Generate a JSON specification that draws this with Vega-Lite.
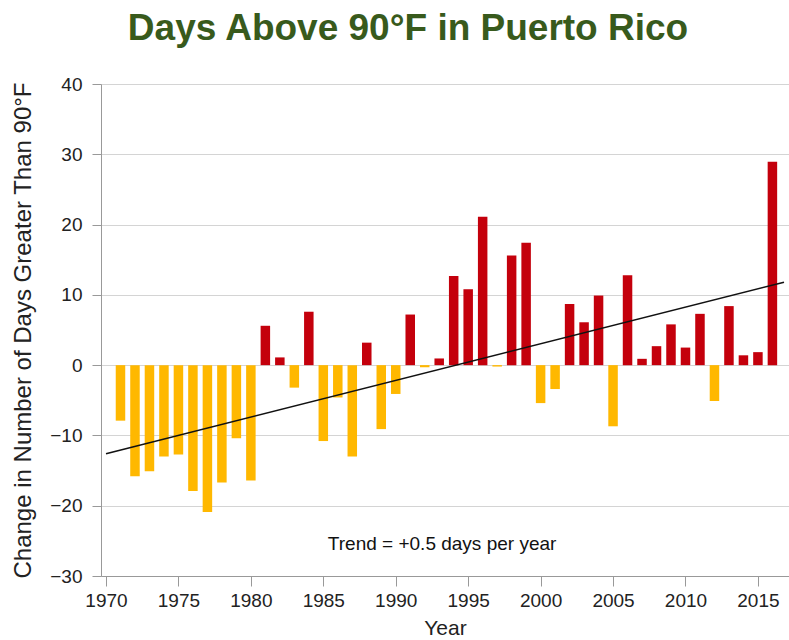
{
  "$schema": "https://vega.github.io/schema/vega-lite/v6.json",
  "autosize": {"type": "none"},
  "width": 688,
  "height": 492,
  "padding": {"left": 101, "top": 84, "right": 0, "bottom": 64},
  "background": "white",
  "config": {
    "view": {"stroke": null},
    "font": "Liberation Sans"
  },
  "title": {
    "text": "Days Above 90°F in Puerto Rico",
    "font": "Liberation Sans",
    "fontSize": 37,
    "fontWeight": "bold",
    "color": "#385A1C",
    "anchor": "middle",
    "frame": "group",
    "dx": -37,
    "offset": 27
  },
  "datasets": {
    "bars": [
      {"year": 1971, "value": -7.9},
      {"year": 1972, "value": -15.8},
      {"year": 1973, "value": -15.1},
      {"year": 1974, "value": -13.0},
      {"year": 1975, "value": -12.7},
      {"year": 1976, "value": -17.9},
      {"year": 1977, "value": -20.9},
      {"year": 1978, "value": -16.7},
      {"year": 1979, "value": -10.4},
      {"year": 1980, "value": -16.4},
      {"year": 1981, "value": 5.6},
      {"year": 1982, "value": 1.1},
      {"year": 1983, "value": -3.2},
      {"year": 1984, "value": 7.6},
      {"year": 1985, "value": -10.8},
      {"year": 1986, "value": -4.6},
      {"year": 1987, "value": -13.0},
      {"year": 1988, "value": 3.2},
      {"year": 1989, "value": -9.1},
      {"year": 1990, "value": -4.1},
      {"year": 1991, "value": 7.2},
      {"year": 1992, "value": -0.3},
      {"year": 1993, "value": 0.95},
      {"year": 1994, "value": 12.7},
      {"year": 1995, "value": 10.8},
      {"year": 1996, "value": 21.1},
      {"year": 1997, "value": -0.2},
      {"year": 1998, "value": 15.6},
      {"year": 1999, "value": 17.4},
      {"year": 2000, "value": -5.4},
      {"year": 2001, "value": -3.4},
      {"year": 2002, "value": 8.7},
      {"year": 2003, "value": 6.1},
      {"year": 2004, "value": 9.9},
      {"year": 2005, "value": -8.7},
      {"year": 2006, "value": 12.8},
      {"year": 2007, "value": 0.9},
      {"year": 2008, "value": 2.7},
      {"year": 2009, "value": 5.8},
      {"year": 2010, "value": 2.5},
      {"year": 2011, "value": 7.3},
      {"year": 2012, "value": -5.1},
      {"year": 2013, "value": 8.4},
      {"year": 2014, "value": 1.4},
      {"year": 2015, "value": 1.85},
      {"year": 2016, "value": 28.95}
    ],
    "trend": [
      {"year": 1970, "value": -12.6},
      {"year": 2016.8, "value": 11.8}
    ],
    "note": [
      {"year": 1993.2, "value": -25.5, "label": "Trend = +0.5 days per year"}
    ]
  },
  "layer": [
    {
      "data": {"name": "bars"},
      "mark": {"type": "bar", "width": 9.5},
      "encoding": {
        "x": {
          "field": "year",
          "type": "quantitative",
          "scale": {"domain": [1970, 2016.8], "nice": false, "zero": false},
          "axis": {
            "title": "Year",
            "titleFontSize": 21,
            "titleFontWeight": "normal",
            "titleColor": "#222222",
            "titlePadding": 7,
            "values": [1970, 1975, 1980, 1985, 1990, 1995, 2000, 2005, 2010, 2015],
            "format": "d",
            "labelFontSize": 19,
            "labelColor": "#222222",
            "labelPadding": 5,
            "tickSize": 10,
            "tickColor": "#999999",
            "domainColor": "#999999",
            "grid": false,
            "labelFlush": false
          }
        },
        "y": {
          "field": "value",
          "type": "quantitative",
          "scale": {"domain": [-30, 40], "nice": false},
          "axis": {
            "title": "Change in Number of Days Greater Than 90°F",
            "titleFontSize": 24,
            "titleFontWeight": "normal",
            "titleColor": "#222222",
            "titlePadding": 14,
            "values": [-30, -20, -10, 0, 10, 20, 30, 40],
            "labelFontSize": 19,
            "labelColor": "#222222",
            "labelPadding": 10,
            "tickSize": 9,
            "tickColor": "#999999",
            "domainColor": "#999999",
            "grid": true,
            "gridColor": "#d4d4d4",
            "gridWidth": 1.2
          }
        },
        "color": {
          "condition": {"test": "datum.value > 0", "value": "#C4000C"},
          "value": "#FFB800"
        }
      }
    },
    {
      "mark": {"type": "rule", "color": "#111111", "strokeWidth": 1.6},
      "encoding": {"y": {"datum": 0}}
    },
    {
      "data": {"name": "trend"},
      "mark": {"type": "line", "color": "#111111", "strokeWidth": 1.6, "clip": true},
      "encoding": {
        "x": {"field": "year", "type": "quantitative"},
        "y": {"field": "value", "type": "quantitative"}
      }
    },
    {
      "data": {"name": "note"},
      "mark": {"type": "text", "fontSize": 19, "color": "#111111", "baseline": "middle", "align": "center"},
      "encoding": {
        "x": {"field": "year", "type": "quantitative"},
        "y": {"field": "value", "type": "quantitative"},
        "text": {"field": "label"}
      }
    }
  ]
}
